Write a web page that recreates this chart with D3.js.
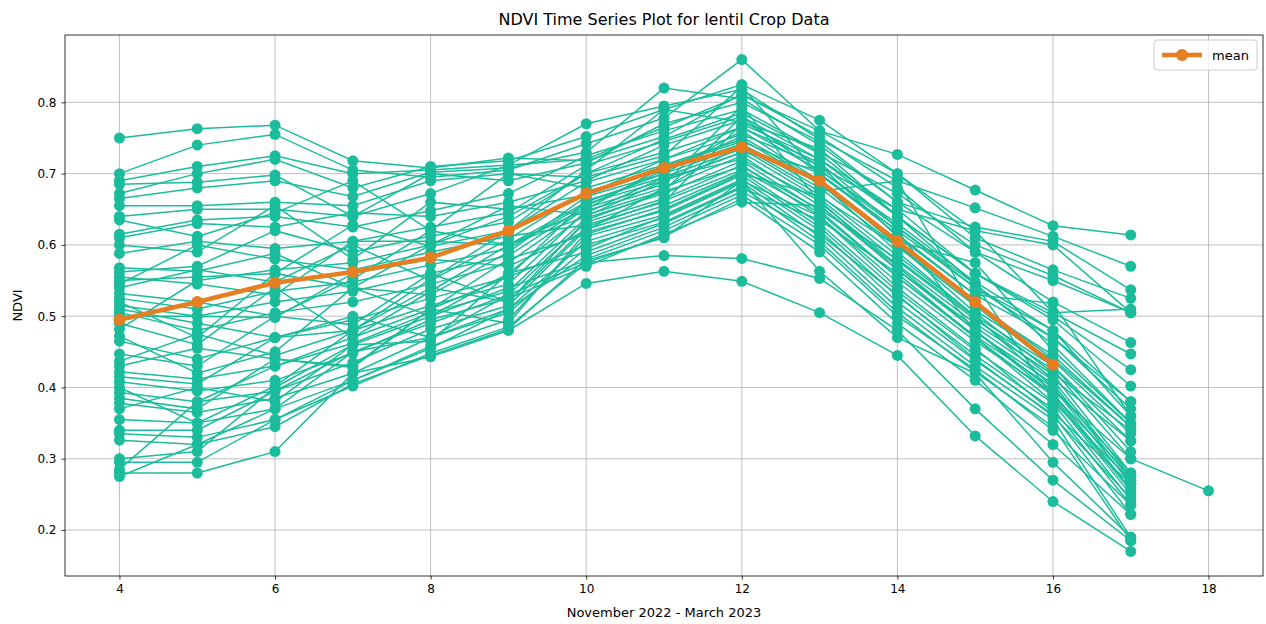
<!DOCTYPE html>
<html lang="en">
<head>
  <meta charset="UTF-8" />
  <title>NDVI Time Series Plot for lentil Crop Data</title>
  <script src="https://d3js.org/d3.v7.min.js"></script>
  <style>
    body {
      margin: 0;
      background: #fff;
      font-family: 'DejaVu Sans', Arial, sans-serif;
    }
    svg { display: block; }
    .grid line { stroke: #b0b0b0; stroke-width: 0.8; }
    .tick text { font-family: 'DejaVu Sans', Arial, sans-serif; font-size: 12px; fill: #000; }
  </style>
</head>
<body>
<svg id="chart" width="1266" height="624"></svg>

<script>
  // day index along the season (Nov 2022 - Mar 2023)
  const days = [4, 5, 6, 7, 8, 9, 10, 11, 12, 13, 14, 15, 16, 17, 18];
  const xTicks = [4, 6, 8, 10, 12, 14, 16, 18];
  const yTicks = [0.2, 0.3, 0.4, 0.5, 0.6, 0.7, 0.8];

  // one row per field, values for days 4..18 (null = no reading)
  const ndviSeries = [
    [.750,.763,.768,.718,.708,.722,.718,.752,.812,.752,.680,.590,.520,.463,null],
    [.700,.740,.755,.705,.695,.705,.742,.778,.860,.760,.727,.677,.627,.614,null],
    [.690,.710,.725,.700,.705,.712,.770,.795,.818,.748,.690,.652,.612,.570,null],
    [.685,.688,.698,.640,.700,.690,.715,.770,.800,.745,.660,.590,.550,.505,null],
    [.672,.700,.720,.680,.710,.718,.752,.790,.825,.775,.700,.610,.565,.525,null],
    [.665,.680,.690,.668,.702,.708,.730,.820,.805,.740,.660,.625,.605,.537,null],
    [.655,.655,.660,.655,.690,.700,.695,.725,.822,.698,.620,.540,.470,.370,null],
    [.640,.650,.650,.640,.672,.712,.720,.765,.810,.760,.700,.620,.600,.505,null],
    [.635,.612,.645,.690,.620,.700,.680,.712,.748,.685,.605,.575,.452,.350,null],
    [.615,.635,.640,.625,.648,.672,.725,.760,.790,.730,.672,.600,.557,.505,null],
    [.610,.630,.625,.645,.640,.660,.690,.740,.775,.710,.650,.560,.500,.425,null],
    [.600,.590,.655,.580,.660,.650,.670,.720,.765,.715,.625,.545,.460,.350,null],
    [.588,.605,.595,.605,.625,.645,.712,.745,.780,.720,.650,.620,.505,.447,null],
    [.568,.563,.588,.540,.600,.655,.642,.676,.780,.700,.620,.478,.405,.270,null],
    [.562,.570,.620,.590,.612,.632,.700,.730,.765,.705,.630,.548,.480,.380,null],
    [.555,.545,.530,.605,.605,.600,.650,.710,.745,.700,.615,.530,.470,.380,null],
    [.550,.555,.560,.628,.598,.620,.705,.790,.772,.735,.640,.560,.495,.402,null],
    [.545,.600,.580,.565,.590,.612,.628,.660,.770,.720,.640,.545,.385,.250,null],
    [.540,.565,.548,.600,.550,.608,.675,.705,.742,.680,.598,.515,.445,.345,null],
    [.532,.520,.500,.552,.620,.600,.660,.700,.760,.690,.600,.520,.440,.345,null],
    [.525,.510,.535,.548,.572,.595,.658,.690,.730,.665,.578,.495,.425,.300,.255],
    [.520,.470,.560,.540,.530,.590,.668,.700,.738,.675,.690,.508,.438,.335,null],
    [.515,.500,.520,.535,.560,.585,.655,.705,.752,.688,.590,.500,.400,.280,null],
    [.510,.490,.470,.480,.552,.620,.688,.720,.755,.712,.612,.530,.518,.360,null],
    [.505,.480,.505,.520,.545,.575,.652,.685,.795,.660,.572,.490,.418,.280,null],
    [.500,.500,.498,.560,.580,.570,.620,.680,.740,.690,.600,.505,.420,.340,null],
    [.490,.460,.540,.470,.535,.600,.640,.690,.730,.705,.625,.540,.480,.360,null],
    [.482,.550,.565,.575,.600,.640,.700,.748,.785,.728,.640,.560,.505,.510,null],
    [.472,.420,.450,.540,.500,.560,.645,.695,.720,.662,.565,.480,.390,.275,null],
    [.465,.440,.470,.495,.525,.555,.662,.695,.735,.670,.585,.500,.430,.325,null],
    [.447,.430,.500,.488,.560,.520,.635,.675,.710,.650,.580,.498,.412,.325,null],
    [.437,.475,.445,.480,.515,.545,.648,.680,.725,.655,.565,.485,.410,.275,null],
    [.430,.455,.440,.430,.510,.580,.615,.650,.700,.668,.598,.515,.430,.310,null],
    [.422,.412,.430,.462,.505,.535,.638,.672,.718,.648,.555,.472,.400,.265,null],
    [.415,.405,.470,.500,.470,.530,.632,.665,.712,.640,.548,.465,.392,.258,null],
    [.408,.395,.410,.448,.495,.525,.570,.615,.660,.655,.570,.480,.395,.300,null],
    [.400,.350,.402,.480,.540,.520,.625,.662,.705,.645,.555,.470,.380,.270,null],
    [.393,.380,.395,.435,.482,.515,.622,.655,.702,.630,.535,.452,.378,.242,null],
    [.385,.370,.440,.428,.510,.490,.618,.648,.698,.625,.528,.445,.370,.235,null],
    [.378,.365,.385,.420,.470,.505,.595,.640,.690,.640,.540,.455,.365,.265,null],
    [.370,.400,.380,.460,.465,.560,.590,.630,.680,.635,.560,.470,.388,.255,null],
    [.355,.350,.370,.410,.458,.495,.612,.642,.692,.620,.520,.438,.362,.222,null],
    [.340,.340,.395,.450,.470,.510,.585,.625,.675,.615,.530,.440,.360,.245,null],
    [.335,.330,.355,.402,.448,.485,.575,.585,.581,.553,.480,.370,.270,.185,null],
    [.326,.320,.345,.405,.445,.482,.580,.620,.670,.600,.500,.425,.340,.235,null],
    [.300,.310,.400,.460,.500,.540,.578,.610,.690,.563,.470,.420,.295,.190,null],
    [.295,.295,.355,.410,.455,.510,.605,.638,.688,.612,.512,.430,.355,.190,null],
    [.285,.380,.430,.470,.510,.555,.600,.632,.682,.605,.505,.422,.345,.185,null],
    [.280,.280,.310,.420,.443,.480,.546,.563,.549,.505,.445,.332,.240,.170,null],
    [.275,.320,.370,.450,.490,.530,.575,.612,.665,.590,.490,.410,.320,.222,null]
  ];

  // mean line as plotted (stops at day 16)
  const meanNdvi = [.495,.520,.547,.562,.582,.620,.672,.708,.737,.690,.605,.520,.432,null,null];

  const seriesColor = "#1abc9c";
  const meanColor = "#e67e22";

  const svg = d3.select("#chart");
  const margin = {top: 35, right: 3, bottom: 48, left: 65};
  const width = 1266 - margin.left - margin.right;
  const height = 624 - margin.top - margin.bottom;

  const x = d3.scaleLinear().domain([3.3, 18.7]).range([0, width]);
  const y = d3.scaleLinear().domain([0.1355, 0.8945]).range([height, 0]);

  const g = svg.append("g").attr("transform", `translate(${margin.left},${margin.top})`);

  // grid
  g.append("g").attr("class", "grid")
    .selectAll("line.vx").data(xTicks).enter().append("line")
    .attr("x1", d => x(d)).attr("x2", d => x(d))
    .attr("y1", 0).attr("y2", height);
  g.append("g").attr("class", "grid")
    .selectAll("line.hy").data(yTicks).enter().append("line")
    .attr("x1", 0).attr("x2", width)
    .attr("y1", d => y(d)).attr("y2", d => y(d));

  const line = d3.line()
    .defined(d => d.v != null)
    .x(d => x(d.day))
    .y(d => y(d.v));

  const toPts = row => row.map((v, i) => ({day: days[i], v: v}));

  // each field: line then its markers
  ndviSeries.forEach(row => {
    const pts = toPts(row);
    const s = g.append("g");
    s.append("path")
      .attr("d", line(pts))
      .attr("fill", "none")
      .attr("stroke", seriesColor)
      .attr("stroke-width", 1.5);
    s.selectAll("circle")
      .data(pts.filter(d => d.v != null))
      .enter().append("circle")
      .attr("cx", d => x(d.day))
      .attr("cy", d => y(d.v))
      .attr("r", 5.5)
      .attr("fill", seriesColor);
  });

  // mean
  const meanPts = toPts(meanNdvi);
  g.append("path")
    .attr("d", line(meanPts))
    .attr("fill", "none")
    .attr("stroke", meanColor)
    .attr("stroke-width", 4.5)
    .attr("stroke-linejoin", "round");
  g.append("g").selectAll("circle")
    .data(meanPts.filter(d => d.v != null))
    .enter().append("circle")
    .attr("cx", d => x(d.day))
    .attr("cy", d => y(d.v))
    .attr("r", 6)
    .attr("fill", meanColor);

  // axes
  const xAxis = g.append("g")
    .attr("transform", `translate(0,${height})`)
    .call(d3.axisBottom(x).tickValues(xTicks).tickSize(3.5).tickPadding(5).tickFormat(d3.format("d")));
  const yAxis = g.append("g")
    .call(d3.axisLeft(y).tickValues(yTicks).tickSize(3.5).tickPadding(5).tickFormat(d3.format(".1f")));
  [xAxis, yAxis].forEach(a => {
    a.select(".domain").remove();
    a.selectAll(".tick line").attr("stroke", "#000").attr("stroke-width", 0.8);
  });

  // frame
  g.append("rect")
    .attr("width", width).attr("height", height)
    .attr("fill", "none").attr("stroke", "#000").attr("stroke-width", 0.8);

  // title and labels
  svg.append("text")
    .attr("x", margin.left + width / 2).attr("y", 25)
    .attr("text-anchor", "middle")
    .attr("font-size", 16)
    .text("NDVI Time Series Plot for lentil Crop Data");

  svg.append("text")
    .attr("x", margin.left + width / 2).attr("y", 617)
    .attr("text-anchor", "middle")
    .attr("font-size", 13)
    .text("November 2022 - March 2023");

  svg.append("text")
    .attr("transform", `translate(22,${margin.top + height / 2}) rotate(-90)`)
    .attr("text-anchor", "middle")
    .attr("font-size", 13)
    .text("NDVI");

  // legend
  const lg = svg.append("g").attr("transform", "translate(1154,40)");
  lg.append("rect")
    .attr("width", 103).attr("height", 30).attr("rx", 3)
    .attr("fill", "#fff").attr("fill-opacity", 0.8)
    .attr("stroke", "#ccc");
  lg.append("line")
    .attr("x1", 8).attr("x2", 48).attr("y1", 15).attr("y2", 15)
    .attr("stroke", meanColor).attr("stroke-width", 4.5);
  lg.append("circle").attr("cx", 28).attr("cy", 15).attr("r", 6).attr("fill", meanColor);
  lg.append("text")
    .attr("x", 58).attr("y", 20)
    .attr("font-size", 13)
    .text("mean");
</script>
</body>
</html>
